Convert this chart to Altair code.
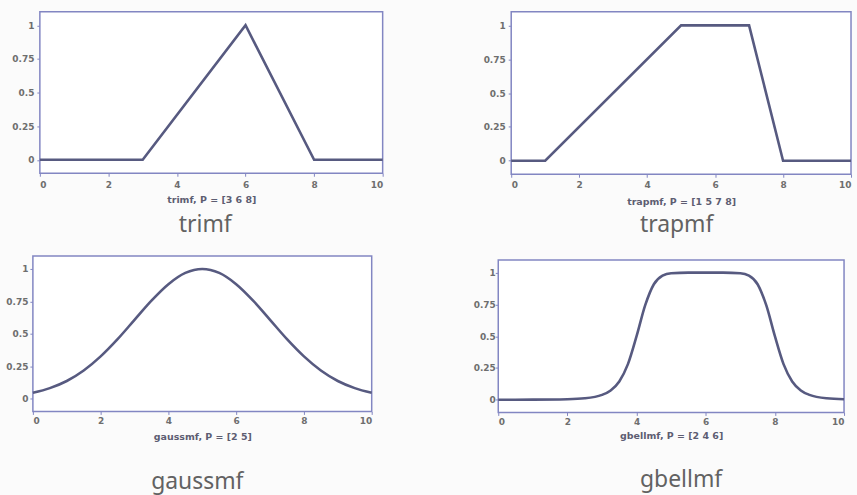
import altair as alt
import pandas as pd

# trimf, P = [3 6 8]
tri_x = [0, 3, 6, 8, 10]
tri_y = [0, 0, 1, 0, 0]

# trapmf, P = [1 5 7 8]
trap_x = [0, 1, 5, 7, 8, 10]
trap_y = [0, 0, 1, 1, 0, 0]

# gaussmf, P = [2 5]
gauss_x = [0, 0.5, 1, 1.5, 2, 2.5, 3, 3.5, 4, 4.5, 5,
           5.5, 6, 6.5, 7, 7.5, 8, 8.5, 9, 9.5, 10]
gauss_y = [0.044, 0.080, 0.135, 0.216, 0.325, 0.458, 0.607, 0.755, 0.882, 0.969, 1.0,
           0.969, 0.882, 0.755, 0.607, 0.458, 0.325, 0.216, 0.135, 0.080, 0.044]

# gbellmf, P = [2 4 6]
bell_x = [0, 1, 2, 2.5, 3, 3.25, 3.5, 3.75, 4, 4.25, 4.5, 4.75, 5, 5.5, 6,
          6.5, 7, 7.25, 7.5, 7.75, 8, 8.25, 8.5, 8.75, 9, 9.5, 10]
bell_y = [0.0002, 0.0007, 0.004, 0.011, 0.038, 0.073, 0.144, 0.280, 0.5, 0.744, 0.909, 0.977, 0.996, 1.0, 1.0,
          1.0, 0.996, 0.977, 0.909, 0.744, 0.5, 0.280, 0.144, 0.073, 0.038, 0.011, 0.004]

x_ticks = [0, 2, 4, 6, 8, 10]
y_ticks = [0, 0.25, 0.5, 0.75, 1]
x_limits = [0, 10]
y_limits = [-0.1, 1.1]

BG = "#fbfbfb"
FRAME = "#8286c2"
LINE = "#575a80"


def panel(xs, ys, axis_label, name, w, h, x_label_pad, x_title_pad, y_label_pad,
          sub_offset, sub_dx, smooth=False, left_inset=0, top_inset=0):
    df = pd.DataFrame({"x": xs, "y": ys})
    x_scale = alt.Scale(domain=x_limits, nice=False, zero=False, range=[left_inset, w])
    y_scale = alt.Scale(domain=y_limits, nice=False, zero=False, range=[h, top_inset])
    x_axis = alt.Axis(values=x_ticks, title=axis_label,
                      labelPadding=x_label_pad, titlePadding=x_title_pad)
    y_axis = alt.Axis(values=y_ticks, format=".2~f", title=None,
                      labelPadding=y_label_pad, offset=-left_inset)

    # white box with a coloured border around the data range
    box = alt.Chart(pd.DataFrame({"k": [0]})).mark_rect(
        fill="#ffffff", stroke=FRAME, strokeWidth=1.5,
    ).encode(
        x=alt.X(datum=x_limits[0], type="quantitative", scale=x_scale, axis=x_axis),
        x2=alt.X2(datum=x_limits[1]),
        y=alt.Y(datum=y_limits[0], type="quantitative", scale=y_scale, axis=y_axis),
        y2=alt.Y2(datum=y_limits[1]),
    )
    line = alt.Chart(df).mark_line(
        color=LINE, strokeWidth=2.6,
        interpolate="monotone" if smooth else "linear",
    ).encode(
        x=alt.X("x:Q", scale=x_scale, axis=x_axis),
        y=alt.Y("y:Q", scale=y_scale, axis=y_axis),
    )
    return alt.layer(box, line).properties(
        width=w, height=h,
        title=alt.TitleParams(name, orient="bottom", anchor="middle", frame="group",
                              offset=sub_offset, dx=sub_dx, fontSize=23,
                              font="Noto Sans", fontWeight="normal", color="#626262"),
    )


a = panel(tri_x, tri_y, "trimf, P = [3 6 8]", "trimf", 351, 162, 4, 5, 3, 10, -2.5,
          left_inset=7)
b = panel(trap_x, trap_y, "trapmf, P = [1 5 7 8]", "trapmf", 380, 163, 3, 7, 3, 8, 15,
          left_inset=39)
c = panel(gauss_x, gauss_y, "gaussmf, P = [2 5]", "gaussmf", 340, 156, 2, 6, 2, 30, -5,
          smooth=True)
d = panel(bell_x, bell_y, "gbellmf, P = [2 4 6]", "gbellmf", 347, 158, 2, 4, 0, 29, 10,
          smooth=True, top_inset=5)

chart = alt.concat(a, b, c, d, columns=2, spacing={"row": 18, "column": 84},
                   align="none").properties(
    background=BG,
    padding={"left": 5, "top": 10, "right": 0, "bottom": 0},
).configure_view(
    strokeWidth=0, fill=BG,
).configure_axis(
    domain=False, grid=False,
    tickSize=3, tickColor=FRAME, tickWidth=1,
    labelFont="DejaVu Sans", labelFontWeight="bold", labelFontSize=9,
    labelColor="#6e6e6e",
    titleFont="DejaVu Sans", titleFontWeight="bold", titleFontSize=9.5,
    titleColor="#5d5d72",
)

chart.save("out.html", embed_options={"renderer": "svg", "actions": False})
